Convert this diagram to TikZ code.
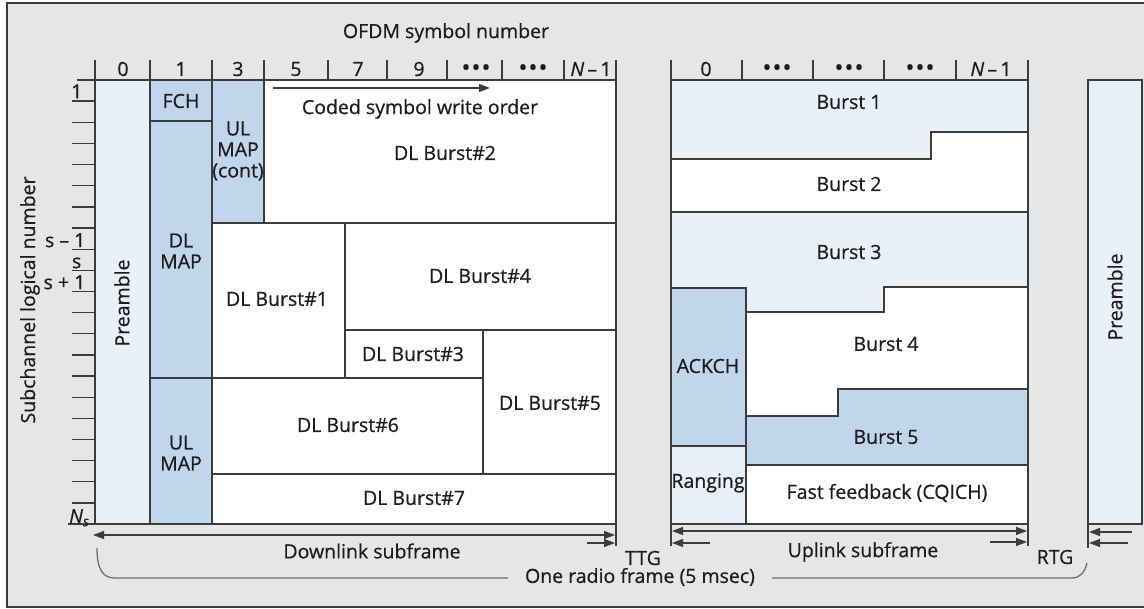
\documentclass[tikz,border=0pt]{standalone}
\usepackage{fontspec}
\setmainfont{Open Sans}[FakeBold=0.6]
\usetikzlibrary{arrows.meta}
\definecolor{bg}{RGB}{229,230,231}
\definecolor{lb}{RGB}{232,240,248}
\definecolor{mb}{RGB}{192,214,234}
\definecolor{ln}{RGB}{60,60,60}
\definecolor{tx}{RGB}{30,28,30}
\definecolor{br}{RGB}{110,110,110}
\begin{document}
\begin{tikzpicture}[x=1pt,y=-1pt,line width=1.3pt,
  lbl/.style={font=\fontsize{19.5}{21}\selectfont,text=tx,inner sep=0pt,align=center},
  dots/.style={font=\fontsize{24}{24}\selectfont,text=tx,inner sep=0pt},
  blk/.style={draw=ln,line width=1.3pt},
  arr/.style={draw=ln,line width=1.2pt,-{Triangle[length=11pt,width=8pt]}},
  darr/.style={draw=ln,line width=1.2pt,{Triangle[length=11pt,width=8pt]}-{Triangle[length=11pt,width=8pt]}},
  tick/.style={draw=ln,line width=1.3pt},
  brace/.style={draw=br,line width=1.3pt}]
\useasboundingbox (0,0) rectangle (1144,609);
\fill[white] (0,0) rectangle (1144,609);
\draw[fill=bg,draw=ln,line width=1.4pt] (7,3) rectangle (1170,607);

% ---------- header ----------
\node[lbl] (hdr) at (446,33) {OFDM symbol number};
% top ticks
\foreach \x in {95,150,212,264,328,387,447,502,564,616}
  \draw[tick] (\x,60) -- (\x,80);
\foreach \x in {671,742,813,884,956,1028}
  \draw[tick] (\x,60) -- (\x,80);
\node[lbl] (c0) at (123,69) {0};
\node[lbl] (c1) at (181,69) {1};
\node[lbl] (c3) at (238,69) {3};
\node[lbl] (c5) at (296,69) {5};
\node[lbl] (c7) at (358,69) {7};
\node[lbl] (c9) at (419,69) {9};
\node[dots] (cd1) at (476,70) {•\kern1pt•\kern1pt•};
\node[dots] (cd2) at (533,70) {•\kern1pt•\kern1pt•};
\node[lbl] (cn) at (591,69) {{\itshape N}\,–\,1};
\node[lbl] (u0) at (706,69) {0};
\node[dots] (ud1) at (777,70) {•\kern1pt•\kern1pt•};
\node[dots] (ud2) at (849,70) {•\kern1pt•\kern1pt•};
\node[dots] (ud3) at (920,70) {•\kern1pt•\kern1pt•};
\node[lbl] (un) at (991,69) {{\itshape N}\,–\,1};

% ---------- DL blocks ----------
\draw[blk,fill=lb] (95,80) rectangle (150,524);
\draw[blk,fill=mb] (150,80) rectangle (212,121);
\draw[blk,fill=mb] (150,121) rectangle (212,378);
\draw[blk,fill=mb] (150,378) rectangle (212,524);
\draw[blk,fill=mb] (212,80) rectangle (264,223);
\draw[blk,fill=white] (264,80) rectangle (616,223);
\draw[blk,fill=white] (212,223) rectangle (345,378);
\draw[blk,fill=white] (345,223) rectangle (616,330);
\draw[blk,fill=white] (345,330) rectangle (483,378);
\draw[blk,fill=white] (483,330) rectangle (616,474);
\draw[blk,fill=white] (212,378) rectangle (483,474);
\draw[blk,fill=white] (212,474) rectangle (616,524);
\draw[tick] (77,80) -- (616,80);

\node[lbl,rotate=90] (pre1) at (122,303) {Preamble};
\node[lbl] (fch) at (181,101) {FCH};
\node[lbl] (dlmap) at (181,251) {DL\\MAP};
\node[lbl] (ulmap) at (181,453) {UL\\MAP};
\node[lbl] (ulmapc) at (238,151) {UL\\MAP\\(cont)};
\node[lbl] (dlb2) at (445,153) {DL Burst\#2};
\node[lbl] (cso) at (420,109) {Coded symbol write order};
\coordinate (wo1) at (273,88);
\coordinate (wo2) at (490,88);
\draw[arr] (wo1) -- (wo2);
\node[lbl] (dlb1) at (277,299) {DL Burst\#1};
\node[lbl] (dlb4) at (480,276) {DL Burst\#4};
\node[lbl] (dlb3) at (413,354) {DL Burst\#3};
\node[lbl] (dlb5) at (550,403) {DL Burst\#5};
\node[lbl] (dlb6) at (348,425) {DL Burst\#6};
\node[lbl] (dlb7) at (414,498) {DL Burst\#7};

% left axis
\foreach \k in {1,...,20}
  \draw[tick] (72,{80+21.15*\k}) -- (95,{80+21.15*\k});
\draw[tick] (68,524) -- (95,524);
\node[lbl,anchor=south east] (r1) at (83,99) {1};
\node[lbl,anchor=south east] (rs1) at (86,248) {s – 1};
\node[lbl,anchor=south east] (rs) at (82,269) {s};
\node[lbl,anchor=south east] (rs2) at (86,290) {s + 1};
\node[lbl,anchor=south east] (rns) at (90,527) {{\itshape N}\textsubscript{\itshape s}};
\node[lbl,rotate=90] (sub) at (30,300) {Subchannel logical number};

% ---------- UL blocks ----------
\draw[blk,fill=lb] (671,80) -- (1028,80) -- (1028,132) -- (931,132) -- (931,159) -- (671,159) -- cycle;
\draw[blk,fill=white] (671,159) -- (931,159) -- (931,132) -- (1028,132) -- (1028,212) -- (671,212) -- cycle;
\draw[blk,fill=lb] (671,212) -- (1028,212) -- (1028,287) -- (884,287) -- (884,312) -- (746,312) -- (746,288) -- (671,288) -- cycle;
\draw[blk,fill=mb] (671,288) rectangle (746,446);
\draw[blk,fill=lb] (671,446) rectangle (746,524);
\draw[blk,fill=white] (746,312) -- (884,312) -- (884,287) -- (1028,287) -- (1028,389) -- (838,389) -- (838,416) -- (746,416) -- cycle;
\draw[blk,fill=mb] (746,416) -- (838,416) -- (838,389) -- (1028,389) -- (1028,465) -- (746,465) -- cycle;
\draw[blk,fill=white] (746,465) rectangle (1028,524);
\draw[tick] (671,80) -- (1028,80);

\node[lbl] (b1) at (849,102) {Burst 1};
\node[lbl] (b2) at (849,184) {Burst 2};
\node[lbl] (b3) at (849,252) {Burst 3};
\node[lbl] (ack) at (708,366) {ACKCH};
\node[lbl] (rng) at (708,483) {Ranging};
\node[lbl] (b4) at (886,344) {Burst 4};
\node[lbl] (b5) at (886,437) {Burst 5};
\node[lbl] (ff) at (887,493) {Fast feedback (CQICH)};

% right preamble
\draw[blk,fill=lb] (1088,80) rectangle (1142,524);
\node[lbl,rotate=90] (pre2) at (1115,297) {Preamble};

% ---------- bottom arrows ----------
\draw[tick] (616,524) -- (616,546);
\draw[tick] (671,524) -- (671,546);
\draw[tick] (1028,524) -- (1028,546);
\draw[tick] (1088,524) -- (1088,548);

\coordinate (dlL) at (93,535);
\coordinate (dlR) at (615,535);
\draw[darr] (dlL) -- (dlR);
\coordinate (ttgA) at (587,543);
\coordinate (ttgB) at (615,543);
\draw[arr] (ttgA) -- (ttgB);
\coordinate (ulL) at (672,531);
\coordinate (ulR) at (1027,531);
\draw[darr] (ulL) -- (ulR);
\coordinate (ttgC) at (710,543);
\coordinate (ttgD) at (672,543);
\draw[arr] (ttgC) -- (ttgD);
\coordinate (rtgA) at (990,542);
\coordinate (rtgB) at (1027,542);
\draw[arr] (rtgA) -- (rtgB);
\coordinate (rtgC) at (1132,532);
\coordinate (rtgD) at (1089,532);
\draw[arr] (rtgC) -- (rtgD);
\coordinate (rtgE) at (1128,543);
\coordinate (rtgF) at (1089,543);
\draw[arr] (rtgE) -- (rtgF);

\node[lbl] (dls) at (372,551) {Downlink subframe};
\node[lbl] (uls) at (863,552) {Uplink subframe};
\node[lbl] (ttg) at (643,558) {TTG};
\node[lbl] (rtg) at (1055,557) {RTG};
\node[lbl] (orf) at (640,577) {One radio frame (5 msec)};

\coordinate (brL) at (97,548);
\coordinate (brR) at (1087,563);
\draw[brace] (brL) .. controls (97,570) and (103,578) .. (115,578) -- (508,578);
\draw[brace] (772,578) -- (1072,578) .. controls (1080,578) and (1085,572) .. (brR);
\end{tikzpicture}
\end{document}
